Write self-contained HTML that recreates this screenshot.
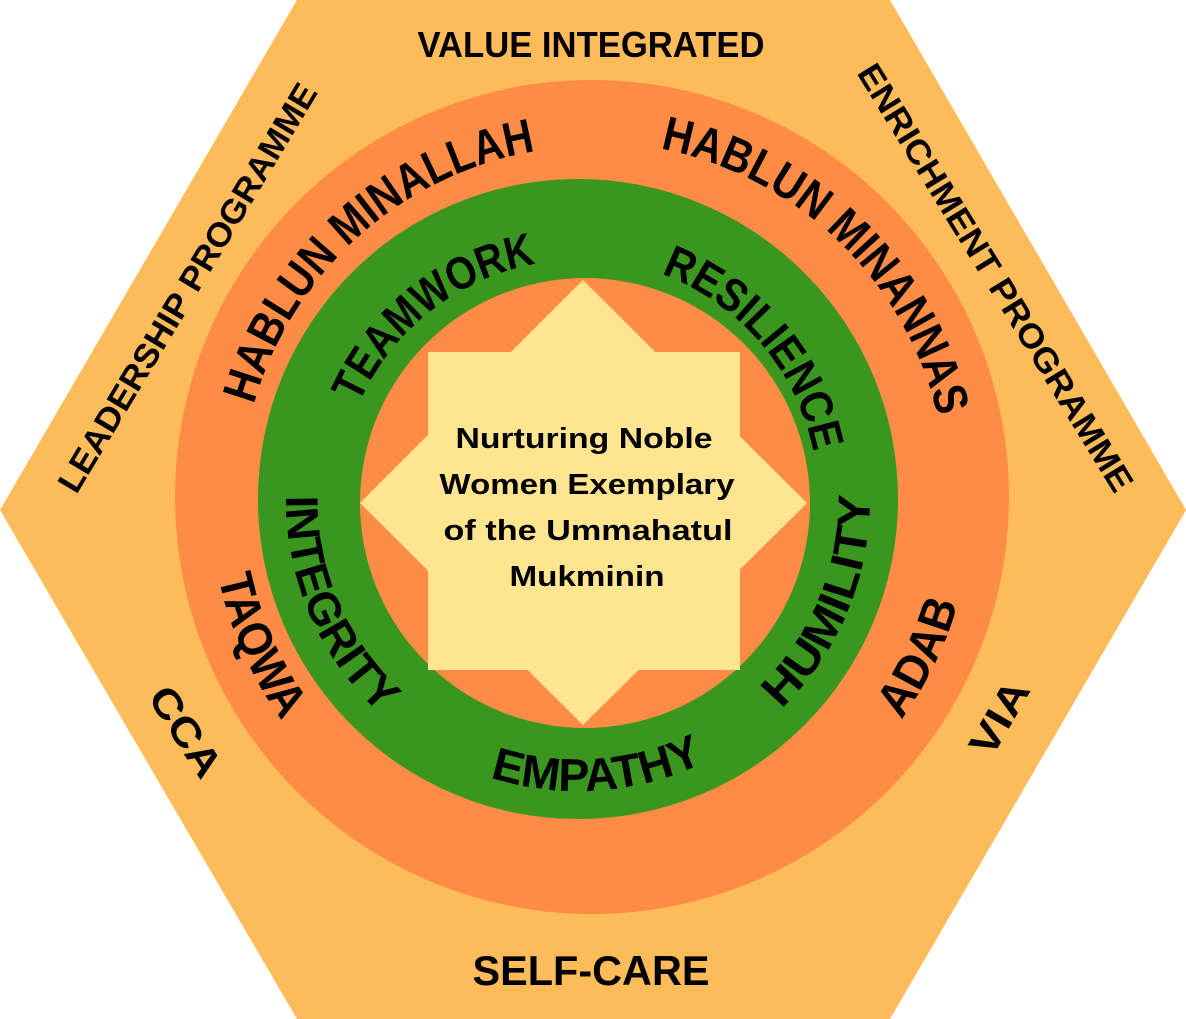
<!DOCTYPE html>
<html><head><meta charset="utf-8"><style>
html,body{margin:0;padding:0;background:#fff;}
svg{display:block;}
text{font-family:"Liberation Sans",sans-serif;font-weight:bold;fill:#000;}
</style></head><body>
<svg width="1186" height="1019" viewBox="0 0 1186 1019" xmlns="http://www.w3.org/2000/svg">
<defs>
<path id="pA" d="M 328.2 734.5 A 355 355 0 0 1 855.8 259.5"/>
<path id="pB" d="M 336.6 250.4 A 355 355 0 0 1 847.4 743.6"/>
<path id="pC" d="M 389.7 647.8 A 240 240 0 0 1 766.3 350.2"/>
<path id="pD" d="M 422.1 316.5 A 240 240 0 0 1 733.9 681.5"/>
<path id="pE" d="M 435.4 145.3 A 385 385 0 0 0 748.6 848.7"/>
<path id="pF" d="M 423.2 843.0 A 385 385 0 0 0 760.8 151.0"/>
<path id="pG" d="M 462.0 231.0 A 292 292 0 0 0 694.0 767.0"/>
<path id="pH" d="M 465.8 768.6 A 292 292 0 0 0 690.2 229.4"/>
<path id="pI" d="M 286.7 519.4 A 292 292 0 0 0 869.3 478.6"/>
</defs>
<polygon points="297,0 890,0 1186,510 890,1019 297,1019 0,510" fill="#FDBB5A"/>
<circle cx="592" cy="497" r="417" fill="#FF8C45"/>
<circle cx="578" cy="499" r="320" fill="#3A961F"/>
<circle cx="585" cy="503" r="225" fill="#FF8C45"/>
<rect x="428" y="352" width="312" height="318" fill="#FFE58F"/>
<polygon points="583,280 807,503 583,725 360,503" fill="#FFE58F"/>

<text x="591" y="57" font-size="36" text-anchor="middle" textLength="347" lengthAdjust="spacingAndGlyphs">VALUE INTEGRATED</text>
<text x="591" y="985" font-size="42" text-anchor="middle" textLength="237" lengthAdjust="spacingAndGlyphs">SELF-CARE</text>
<text transform="translate(188,288) rotate(-59)" font-size="34" text-anchor="middle" dominant-baseline="central" textLength="470" lengthAdjust="spacingAndGlyphs">LEADERSHIP PROGRAMME</text>
<text transform="translate(995,278) rotate(58.5)" font-size="34" text-anchor="middle" dominant-baseline="central" textLength="495" lengthAdjust="spacingAndGlyphs">ENRICHMENT PROGRAMME</text>
<text transform="translate(185,732) rotate(57)" font-size="40" text-anchor="middle" dominant-baseline="central" textLength="100" lengthAdjust="spacingAndGlyphs">CCA</text>
<text transform="translate(1000,718) rotate(-60)" font-size="40" text-anchor="middle" dominant-baseline="central" textLength="80" lengthAdjust="spacingAndGlyphs">VIA</text>

<text font-size="48"><textPath href="#pA" startOffset="50%" text-anchor="middle" textLength="400" lengthAdjust="spacingAndGlyphs">HABLUN MINALLAH</textPath></text>
<text font-size="48"><textPath href="#pB" startOffset="50%" text-anchor="middle" textLength="408" lengthAdjust="spacingAndGlyphs">HABLUN MINANNAS</textPath></text>
<text font-size="46"><textPath href="#pC" startOffset="50%" text-anchor="middle" textLength="235" lengthAdjust="spacingAndGlyphs">TEAMWORK</textPath></text>
<text font-size="46"><textPath href="#pD" startOffset="50%" text-anchor="middle" textLength="245" lengthAdjust="spacingAndGlyphs">RESILIENCE</textPath></text>
<text font-size="48"><textPath href="#pE" startOffset="50%" text-anchor="middle" textLength="158" lengthAdjust="spacingAndGlyphs">TAQWA</textPath></text>
<text font-size="48"><textPath href="#pF" startOffset="50%" text-anchor="middle" textLength="130" lengthAdjust="spacingAndGlyphs">ADAB</textPath></text>
<text font-size="46"><textPath href="#pG" startOffset="50%" text-anchor="middle" textLength="245" lengthAdjust="spacingAndGlyphs">INTEGRITY</textPath></text>
<text font-size="46"><textPath href="#pH" startOffset="50%" text-anchor="middle" textLength="238" lengthAdjust="spacingAndGlyphs">HUMILITY</textPath></text>
<text font-size="46"><textPath href="#pI" startOffset="50%" text-anchor="middle" textLength="220" lengthAdjust="spacingAndGlyphs">EMPATHY</textPath></text>

<g font-size="29" text-anchor="middle">
<text x="584" y="448" textLength="257" lengthAdjust="spacingAndGlyphs">Nurturing Noble</text>
<text x="587" y="494" textLength="295" lengthAdjust="spacingAndGlyphs">Women Exemplary</text>
<text x="588" y="540" textLength="289" lengthAdjust="spacingAndGlyphs">of the Ummahatul</text>
<text x="587" y="586" textLength="155" lengthAdjust="spacingAndGlyphs">Mukminin</text>
</g>
</svg>
</body></html>
